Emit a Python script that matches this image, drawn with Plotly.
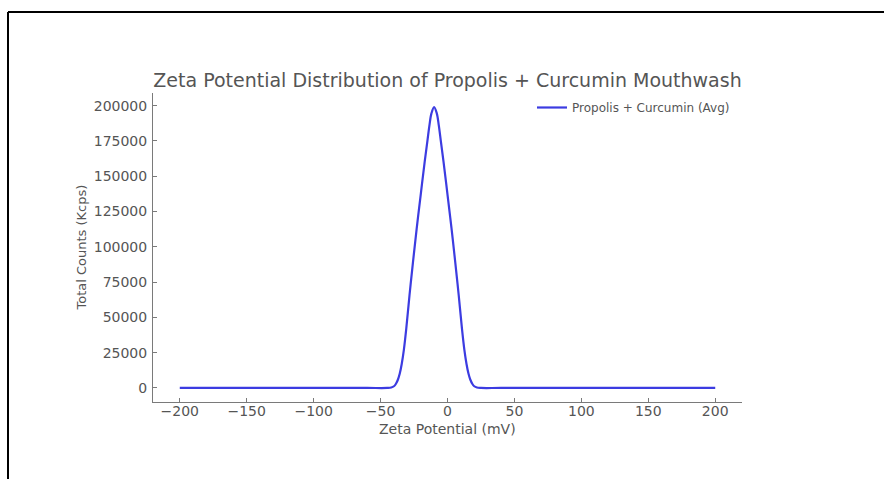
import plotly.graph_objects as go

# Data (zeta potential in mV, total counts in Kcps)
zeta_mv = [-200, -150, -100, -60, -45, -42, -40, -38.5, -37, -35.7, -34.2, -32.6,
           -30.8, -28.4, -25.8, -23, -20, -17, -15, -13.5, -12, -10, -8, -6.5, -5,
           -3, 0, 3, 5.8, 8.4, 10.8, 12.6, 14.2, 15.7, 17, 18.5, 20, 22, 25, 40,
           100, 150, 200]
counts = [0, 0, 0, 0, 0, 300, 1200, 3000, 6000, 10000, 17000, 27000,
          42000, 65500, 89000, 113000, 137000, 160500, 175000, 186000, 194500, 199000,
          194500, 186000, 175000, 160500, 137000, 113000, 89000, 65500, 42000, 27000,
          17000, 10000, 6000, 3000, 1200, 300, 0, 0, 0, 0, 0]
series_name = "Propolis + Curcumin (Avg)"
x_ticks = [-200, -150, -100, -50, 0, 50, 100, 150, 200]
y_ticks = [0, 25000, 50000, 75000, 100000, 125000, 150000, 175000, 200000]

W, H = 884, 479
L, R, T, B = 153, 142, 93, 77
pw, ph = W - L - R, H - T - B

def px_x(p):
    return (p - L) / pw

def px_y(p):
    return (H - B - p) / ph

text_col = "#555555"
axis_col = "#7a7a7a"
font = "DejaVu Sans"

fig = go.Figure()
fig.add_trace(go.Scatter(x=zeta_mv, y=counts, mode="lines", name=series_name,
                         line=dict(color="rgb(60,60,225)", width=2.2,
                                   shape="spline", smoothing=1)))

ymax = max(counts)
pad = 0.05 * ymax
fig.update_layout(
    width=W, height=H,
    margin=dict(l=L, r=R, t=T, b=B),
    paper_bgcolor="white", plot_bgcolor="white",
    font=dict(family=font, color=text_col, size=13),
    title=dict(text="Zeta Potential Distribution of Propolis + Curcumin Mouthwash",
               x=0.5, xref="paper", xanchor="center",
               y=1 - 80 / H, yref="container", yanchor="middle",
               font=dict(size=19, color=text_col, family=font)),
    showlegend=True,
    legend=dict(x=px_x(532), y=px_y(93), xanchor="left", yanchor="top",
                bgcolor="rgba(0,0,0,0)", font=dict(size=12, color=text_col)),
    xaxis=dict(range=[-220, 220], tickvals=x_ticks,
               ticktext=[str(v).replace("-", "\u2212") for v in x_ticks],
               showline=True, linecolor=axis_col, linewidth=1, mirror=False,
               ticks="inside", ticklen=4, tickcolor=axis_col, showgrid=False,
               zeroline=False, tickfont=dict(size=14, color=text_col),
               ticklabelstandoff=-4),
    yaxis=dict(range=[-pad, ymax + pad], tickvals=y_ticks,
               ticktext=[str(v) for v in y_ticks],
               showline=True, linecolor=axis_col, linewidth=1, mirror=False,
               ticks="inside", ticklen=4, tickcolor=axis_col, showgrid=False,
               zeroline=False, tickfont=dict(size=14, color=text_col),
               ticklabelstandoff=2),
    annotations=[
        dict(text="Zeta Potential (mV)", xref="paper", yref="paper",
             x=0.5, y=px_y(429), xanchor="center", yanchor="middle",
             showarrow=False, font=dict(size=14, color=text_col)),
        dict(text="Total Counts (Kcps)", xref="paper", yref="paper",
             x=px_x(81), y=px_y(247.5), xanchor="center", yanchor="middle",
             textangle=-90, showarrow=False, font=dict(size=13, color=text_col)),
    ],
    shapes=[
        dict(type="line", xref="paper", yref="paper", x0=px_x(8), x1=px_x(884),
             y0=px_y(12), y1=px_y(12), line=dict(color="black", width=2)),
        dict(type="line", xref="paper", yref="paper", x0=px_x(8), x1=px_x(8),
             y0=px_y(12), y1=px_y(479), line=dict(color="black", width=2)),
    ],
)

fig.write_html("out.html")
